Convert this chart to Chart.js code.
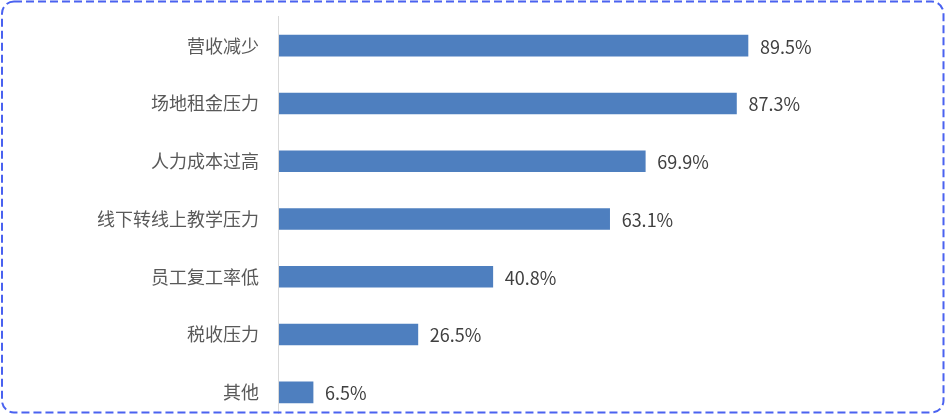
<!DOCTYPE html>
<html lang="zh">
<head>
    <meta charset="utf-8">
    <title>困难分布</title>
    <script src="https://cdn.jsdelivr.net/npm/chart.js@4/dist/chart.umd.min.js"></script>
    <style>
        html, body { margin: 0; padding: 0; background: #fff; overflow: hidden; }
        #wrap { position: relative; width: 946px; height: 414px; overflow: hidden; }
        #chart { position: absolute; left: 0; top: -14px; }
        #frame { position: absolute; left: 0; top: 0; pointer-events: none; }
    </style>
</head>
<body>
<div id="wrap">
    <canvas id="chart" width="946" height="466"></canvas>
    <svg id="frame" width="946" height="414">
        <rect x="2" y="1.5" width="941.5" height="411" rx="12" ry="12"
              fill="none" stroke="#4a62f0" stroke-width="2" stroke-dasharray="8 4"/>
    </svg>
</div>
<script>
    const labels = ['营收减少', '场地租金压力', '人力成本过高', '线下转线上教学压力', '员工复工率低', '税收压力', '其他'];
    const values = [89.5, 87.3, 69.9, 63.1, 40.8, 26.5, 6.5];

    const font = '"Noto Sans CJK SC", "Microsoft YaHei", sans-serif';

    // percent labels just after the bar ends
    const valueLabels = {
        id: 'valueLabels',
        afterDatasetsDraw(chart) {
            const ctx = chart.ctx;
            const meta = chart.getDatasetMeta(0);
            ctx.save();
            ctx.font = '18px ' + font;
            ctx.fillStyle = '#404040';
            ctx.textAlign = 'left';
            ctx.textBaseline = 'middle';
            meta.data.forEach(function (bar, i) {
                ctx.fillText(values[i].toFixed(1) + '%', bar.x + 12, bar.y + 1);
            });
            ctx.restore();
        }
    };

    new Chart(document.getElementById('chart'), {
        type: 'bar',
        data: {
            labels: labels,
            datasets: [{
                data: values,
                backgroundColor: '#4e7fbf',
                borderWidth: 0,
                barThickness: 21
            }]
        },
        options: {
            indexAxis: 'y',
            responsive: false,
            animation: false,
            layout: { padding: { left: 77, right: 143, top: 0, bottom: 0 } },
            plugins: { legend: { display: false }, tooltip: { enabled: false } },
            scales: {
                x: { display: false, min: 0, max: 100 },
                y: {
                    grid: { display: false, drawTicks: false },
                    border: { display: true, color: '#d9d9d9', width: 1 },
                    ticks: { padding: 20, color: '#595959', font: { family: font, size: 18 } }
                }
            }
        },
        plugins: [valueLabels]
    });
</script>
</body>
</html>
